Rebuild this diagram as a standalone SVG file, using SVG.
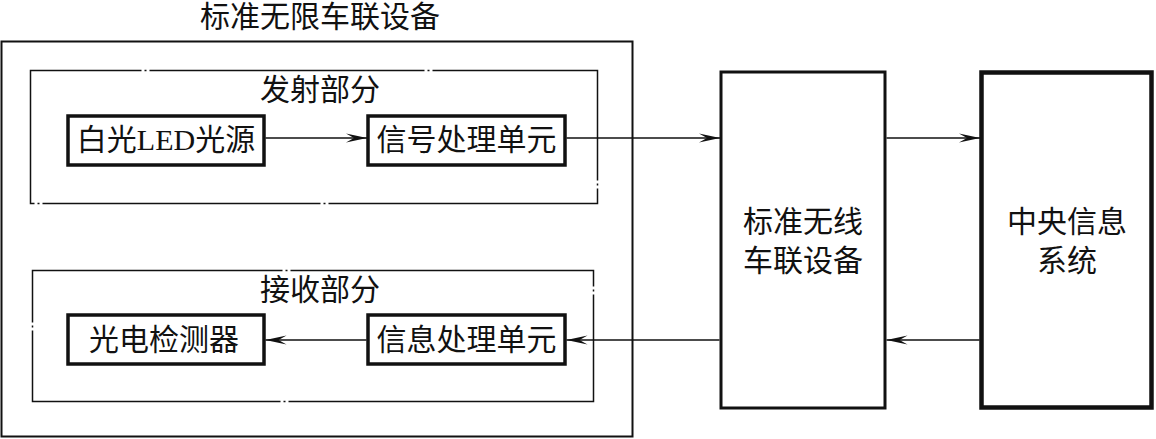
<svg xmlns="http://www.w3.org/2000/svg" width="1156" height="439" viewBox="0 0 1156 439">
<style>
text{font-family:"Liberation Serif","Noto Sans CJK SC",serif;font-size:30px;fill:#111;text-anchor:middle}
.box{fill:#fff;stroke:#111}
.grp{fill:none;stroke:#111;stroke-width:1.5}
.con{fill:none;stroke:#111;stroke-width:1.4}
</style>
<defs>
<marker id="arr" markerUnits="userSpaceOnUse" viewBox="-22 -6 24 12" refX="0" refY="0" markerWidth="24" markerHeight="12" orient="auto">
<path d="M0,0 L-21,-4.5 L-13,0 L-21,4.5 Z" fill="#111"/>
</marker>
</defs>
<rect width="1156" height="439" fill="#fff"/>
<g id="outer">
<rect class="box" x="1.5" y="41.5" width="631" height="395" stroke-width="2"/>
<text x="320" y="27">标准无限车联设备</text>
</g>
<g id="transmit-group">
<rect class="grp" x="30.5" y="70.5" width="567" height="133" stroke-dasharray="111 3 2 3 275 3 2 3 275 3 2 3 284 3 2 3 278 3 2 3 145 0"/>
<text x="320" y="100">发射部分</text>
</g>
<g id="receive-group">
<rect class="grp" x="32.5" y="270.5" width="561" height="131" stroke-dasharray="250 3 2 3 319 3 2 3 412 3 2 3 319 3 2 3 60 0"/>
<text x="320" y="300">接收部分</text>
</g>
<g id="led">
<rect class="box" x="68" y="116" width="196" height="49" stroke-width="3.5"/>
<text x="166" y="150">白光LED光源</text>
</g>
<g id="signal">
<rect class="box" x="368" y="116" width="197" height="49" stroke-width="3.5"/>
<text x="466.5" y="150">信号处理单元</text>
</g>
<g id="detector">
<rect class="box" x="68" y="315" width="196" height="49" stroke-width="3.5"/>
<text x="164" y="349.5">光电检测器</text>
</g>
<g id="info">
<rect class="box" x="368" y="315" width="197" height="49" stroke-width="3.5"/>
<text x="466.5" y="349.5">信息处理单元</text>
</g>
<g id="wireless">
<rect class="box" x="721" y="72" width="164" height="336" stroke-width="3" stroke="#222"/>
<text x="803" y="232">标准无线</text>
<text x="803" y="271">车联设备</text>
</g>
<g id="central">
<rect class="box" x="981.5" y="72.5" width="170" height="335" stroke-width="4.5"/>
<text x="1067" y="232">中央信息</text>
<text x="1067" y="271">系统</text>
</g>
<g id="connectors">
<line class="con" x1="265.5" y1="138" x2="367" y2="138" marker-end="url(#arr)"/>
<line class="con" x1="566.5" y1="138" x2="720" y2="138" marker-end="url(#arr)"/>
<line class="con" x1="886.5" y1="138" x2="980" y2="138" marker-end="url(#arr)"/>
<line class="con" x1="979.5" y1="340" x2="886.5" y2="340" marker-end="url(#arr)"/>
<line class="con" x1="719.5" y1="340" x2="566.5" y2="340" marker-end="url(#arr)"/>
<line class="con" x1="366.5" y1="340" x2="265.5" y2="340" marker-end="url(#arr)"/>
</g>
</svg>
